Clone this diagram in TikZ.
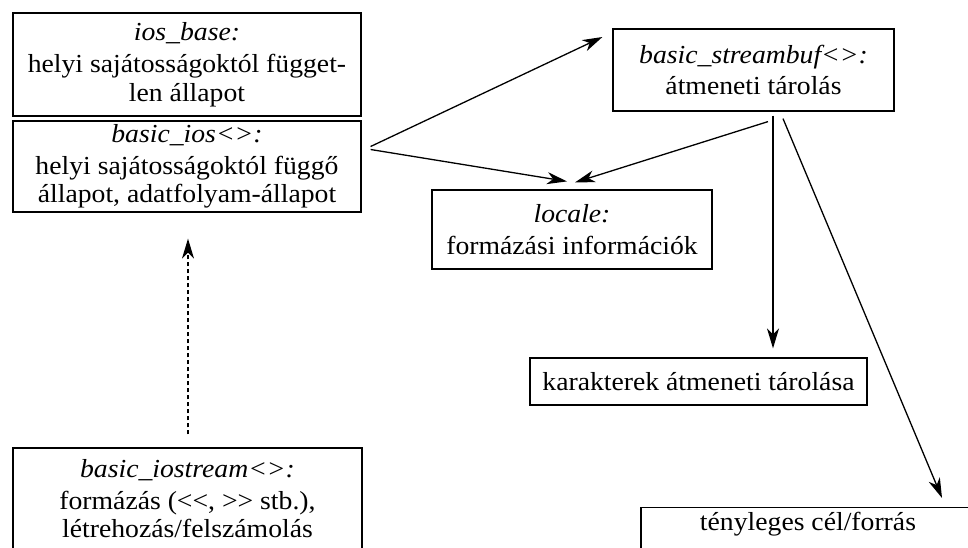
\documentclass[tikz,border=0pt]{standalone}
\usepackage{fontspec}
\setmainfont[FakeStretch=1.065,Ligatures=TeXOff]{Liberation Serif}
\usetikzlibrary{arrows.meta,calc}
\begin{document}
\begin{tikzpicture}[x=1pt,y=-1pt,
 box/.style={draw,line width=1.2pt,rectangle,inner sep=0pt,align=center,font=\fontsize{26}{28.5}\selectfont},
 arr/.style={line width=1.3pt,-{Stealth[length=20pt,width=12pt,inset=6pt]}}]
\useasboundingbox (0,0) rectangle (968,547);
\clip (0,0) rectangle (968,547);
\node[box,minimum width=348pt,minimum height=103pt] (base) at (187,64.5) {\textit{ios\_base:}\\[3.5pt]helyi sajátosságoktól függet-\\len állapot};
\node[box,minimum width=348pt,minimum height=91pt] (ios) at (187,166.5) {\textit{basic\_ios<>:}\\[3.5pt]helyi sajátosságoktól függő\\állapot, adatfolyam-állapot};
\node[box,minimum width=349pt,minimum height=101pt] (iostr) at (187.5,498.5) {\textit{basic\_iostream<>:}\\[3.5pt]formázás (<<, >> stb.),\\létrehozás/felszámolás};
\node[box,minimum width=281pt,minimum height=82pt] (sb) at (753.5,70) {\textit{basic\_streambuf<>:}\\[3pt]átmeneti tárolás};
\node[box,minimum width=280pt,minimum height=79pt] (loc) at (572,229.5) {\textit{locale:}\\[3pt]formázási információk};
\node[box,minimum width=337pt,minimum height=47pt] (kar) at (698.5,381.5) {karakterek átmeneti tárolása};
\node[box,minimum width=334pt,anchor=north,text height=23pt,text depth=60pt] (cel) at (808,507) {tényleges cél/forrás};
\draw[arr] ($(ios.east)+(9,-20)$) -- ($(sb.west)+(-10,-33)$);
\draw[arr] ($(ios.east)+(9,-17)$) -- ($(loc.north)+(-5,-8)$);
\draw[arr] ($(sb.south)+(14.5,10)$) -- ($(loc.north)+(3,-7)$);
\draw[arr] ($(sb.south)+(19.5,4)$) -- ($(kar.north)+(74.5,-9)$);
\draw[arr] ($(sb.south)+(29.5,7)$) -- ($(cel.north)+(134,-9)$);
\draw[arr,dash pattern=on 4pt off 3pt] ($(iostr.north)+(0.5,-13)$) -- ($(ios.south)+(1,26)$);
\end{tikzpicture}
\end{document}
